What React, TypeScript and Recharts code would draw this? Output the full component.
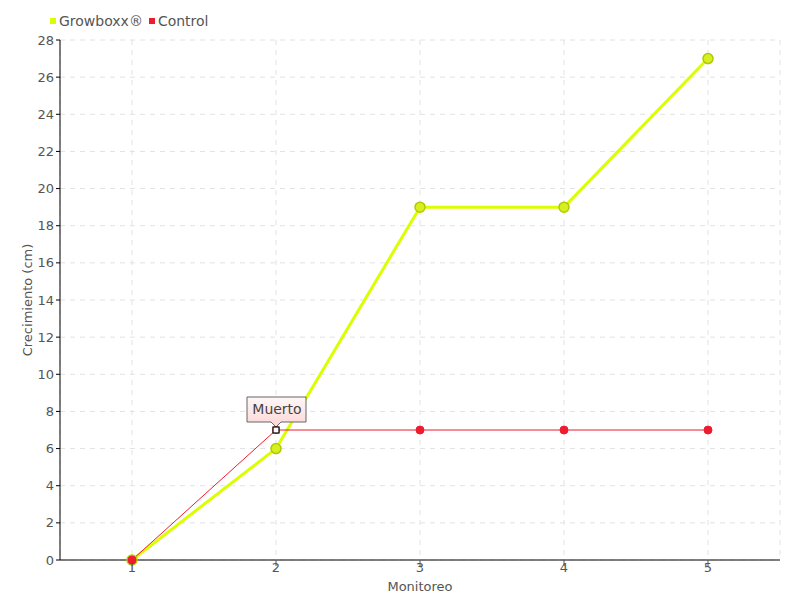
import { LineChart, Line, XAxis, YAxis, CartesianGrid, Label } from 'recharts';

const monitoreos = [1, 2, 3, 4, 5];
const growboxx = [0, 6, 19, 19, 27];
const control = [0, 7, 7, 7, 7];
const yTicks = [0, 2, 4, 6, 8, 10, 12, 14, 16, 18, 20, 22, 24, 26, 28];
const annotationIndex = 1;
const annotationText = 'Muerto';

const data = monitoreos.map((m, i) => ({ m, growboxx: growboxx[i], control: control[i] }));

const FONT = "'DejaVu Sans', sans-serif";
const TEXT = '#555';
const YELLOW = '#dcff00';
const RED = '#ee1c2e';

// eslint-disable-next-line @typescript-eslint/no-explicit-any
function ControlDot(props: any) {
    const { cx, cy, index } = props;
    if (index !== annotationIndex) {
        return <circle key={index} cx={cx} cy={cy} r={4} fill={RED} stroke={RED} />;
    }
    return (
        <g key={index}>
            <path
                d={`M${cx - 29},${cy - 33} h59 v25 h-25 l-5,5 l-5,-5 h-24 z`}
                fill="url(#calloutFill)"
                stroke="#666"
                strokeWidth={1}
            />
            <text x={cx + 1} y={cy - 16} textAnchor="middle" fontFamily={FONT} fontSize={14} fill="#444">
                {annotationText}
            </text>
            <circle cx={cx} cy={cy} r={4} fill={RED} opacity={0.6} />
            <rect x={cx - 3} y={cy - 3} width={6} height={6} fill="#fff" stroke="#000" strokeWidth={1.2} />
        </g>
    );
}

export default function App() {
    return (
        <div style={{ position: 'absolute', left: 0, top: 0, width: 800, height: 600, background: '#fff' }}>
            {/* legend */}
            <div style={{ position: 'absolute', left: 50, top: 13, display: 'flex', alignItems: 'center', fontFamily: FONT, fontSize: 14, color: TEXT }}>
                <span style={{ width: 6, height: 6, background: YELLOW, display: 'inline-block', marginRight: 3 }} />
                <span style={{ marginRight: 6 }}>Growboxx®</span>
                <span style={{ width: 6, height: 6, background: RED, display: 'inline-block', marginRight: 3 }} />
                <span>Control</span>
            </div>
            <LineChart width={800} height={600} data={data} margin={{ top: 40, right: 20, bottom: 0, left: 0 }}>
                <defs>
                    <linearGradient id="calloutFill" x1="0" y1="0" x2="0" y2="1">
                        <stop offset="0%" stopColor="#fff7f7" />
                        <stop offset="100%" stopColor="#fcd6d6" />
                    </linearGradient>
                </defs>
                <CartesianGrid stroke="#e2e2e2" strokeDasharray="5 5" />
                <XAxis
                    dataKey="m"
                    type="number"
                    domain={[0.5, 5.5]}
                    ticks={monitoreos}
                    height={40}
                    stroke="#000"
                    tickSize={6}
                    tickMargin={-3}
                    tick={{ fill: TEXT, fontFamily: FONT, fontSize: 13 }}
                    tickLine={{ stroke: '#555' }}
                >
                    <Label value="Monitoreo" position="insideTop" offset={22} fill={TEXT} fontFamily={FONT} fontSize={13} />
                </XAxis>
                <YAxis
                    domain={[0, 28]}
                    ticks={yTicks}
                    width={60}
                    stroke="#000"
                    tickSize={4}
                    tick={{ fill: TEXT, fontFamily: FONT, fontSize: 13 }}
                    tickLine={{ stroke: '#000' }}
                >
                    <Label value="Crecimiento (cm)" angle={-90} position="insideLeft" offset={27} fill={TEXT} fontFamily={FONT} fontSize={13} style={{ textAnchor: 'middle' }} />
                </YAxis>
                <Line
                    dataKey="growboxx"
                    stroke={YELLOW}
                    strokeWidth={3}
                    dot={{ r: 5, fill: '#d4f020', stroke: '#b4c800', strokeWidth: 1.5 }}
                    isAnimationActive={false}
                />
                <Line
                    dataKey="control"
                    stroke={RED}
                    strokeWidth={1}
                    dot={ControlDot}
                    isAnimationActive={false}
                />
            </LineChart>
        </div>
    );
}
